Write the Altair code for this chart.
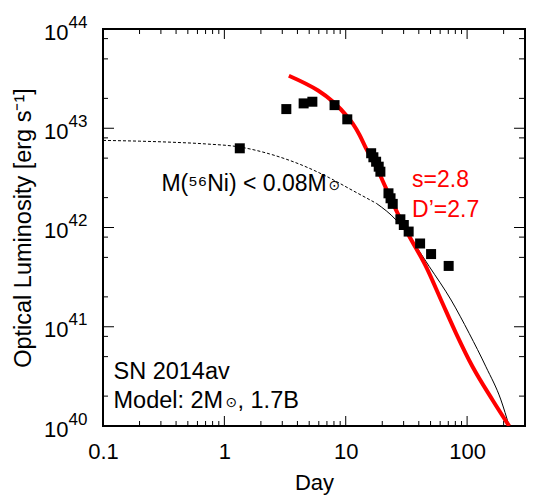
import altair as alt
import pandas as pd

# ---- data ----
obs_day = [1.34, 3.24, 4.50, 5.31, 8.09, 10.3, 16.2, 16.9, 17.8, 18.7, 19.3,
           22.5, 23.4, 24.4, 28.2, 30.1, 33.0, 41.0, 50.5, 70.5]
obs_lum = [6.28e42, 1.56e43, 1.78e43, 1.85e43, 1.71e43, 1.23e43, 5.6e42, 5.1e42,
           4.6e42, 4.1e42, 3.65e42, 2.21e42, 1.97e42, 1.73e42, 1.21e42, 1.06e42,
           9.1e41, 6.9e41, 5.4e41, 4.1e41]

red_day = [3.40, 10.3, 11.4, 13.0, 14.7, 17.8, 21.5, 26.0, 32.4, 45.9, 61.0,
           81.1, 111, 162, 222]
red_lum = [3.38e43, 1.31e43, 1.12e43, 8.55e42, 6.28e42, 4.10e42, 2.48e42, 1.50e42,
           8.75e41, 4.03e41, 1.86e41, 8.59e40, 3.95e40, 1.83e40, 1.0e40]

dash_day = [0.1, 0.201, 0.369, 0.703, 1.34, 2.36, 4.42, 7.36, 11.4, 17.9]
dash_lum = [7.54e42, 7.41e42, 7.23e42, 6.95e42, 6.47e42, 5.51e42, 4.22e42, 3.16e42,
            2.36e42, 1.75e42]

thin_day = [17.9, 26.0, 33.5, 48.9, 73.8, 104, 143, 190, 222]
thin_lum = [1.75e42, 1.19e42, 8.07e41, 4.03e41, 1.86e41, 8.59e40, 3.95e40, 1.83e40, 1.0e40]

x_major = [0.1, 1, 10, 100]
x_minor = [0.2, 0.3, 0.4, 0.5, 0.6, 0.7, 0.8, 0.9,
           2, 3, 4, 5, 6, 7, 8, 9,
           20, 30, 40, 50, 60, 70, 80, 90, 200]
y_major = [1e40, 1e41, 1e42, 1e43, 1e44]
y_minor = [2e40, 5e40, 8e40, 2e41, 5e41, 8e41, 2e42, 5e42, 8e42, 2e43, 5e43, 8e43]

ann_text = ["M(⁵⁶Ni) < 0.08M", "s=2.8", "D’=2.7", "SN 2014av", "Model: 2M"]
ann_day = [0.303, 35.2, 35.2, 0.122, 0.122]
ann_lum = [2.35e42, 2.53e42, 1.27e42, 3.0e40, 1.52e40]
ann_color = ["black", "#ff0000", "#ff0000", "black", "black"]
ann_size = [23, 23, 23, 23.5, 23.5]

sun_sym = "⊙"
model_tail = ", 1.7B"

# ---- chart ----
W, H = 422, 397
FONT = "Liberation Sans"
xdom = [0.1, 300]
ydom = [1e40, 1e44]
# pixels per decade, only used to turn tick lengths (px) into log offsets
XPD = W / 3.4771
YPD = H / 4.0


def xs():
    return alt.Scale(type="log", domain=xdom)


def ys():
    return alt.Scale(type="log", domain=ydom)


def xticks(values, at_bottom, length):
    # short vertical segments drawn as two-point lines, one per tick value
    df = pd.DataFrame({"v": values})
    if at_bottom:
        e1, e2 = "1e40", f"pow(10, 40 + {length}/{YPD})"
    else:
        e1, e2 = "1e44", f"pow(10, 44 - {length}/{YPD})"
    return alt.Chart(df).transform_calculate(a=e1, b=e2).transform_fold(
        ["a", "b"], as_=["k", "val"]
    ).mark_line(color="black", strokeWidth=1).encode(
        x=alt.X("v:Q", scale=xs(), axis=None),
        y=alt.Y("val:Q", scale=ys(), axis=None),
        detail="v:N",
    )


def yticks(values, at_left, length):
    df = pd.DataFrame({"v": values})
    if at_left:
        e1, e2 = "0.1", f"pow(10, -1 + {length}/{XPD})"
    else:
        e1, e2 = "300", f"300 * pow(10, -{length}/{XPD})"
    return alt.Chart(df).transform_calculate(a=e1, b=e2).transform_fold(
        ["a", "b"], as_=["k", "val"]
    ).mark_line(color="black", strokeWidth=1).encode(
        y=alt.Y("v:Q", scale=ys(), axis=None),
        x=alt.X("val:Q", scale=xs(), axis=None),
        detail="v:N",
    )


tick_layers = [
    xticks(x_major, True, 10), xticks(x_minor, True, 5),
    xticks(x_major, False, 10), xticks(x_minor, False, 5),
    yticks(y_major, True, 11), yticks(y_minor, True, 5),
    yticks(y_major, False, 11), yticks(y_minor, False, 6),
]

df_obs = pd.DataFrame({"day": obs_day, "lum": obs_lum})
df_red = pd.DataFrame({"day": red_day, "lum": red_lum})
df_dash = pd.DataFrame({"day": dash_day, "lum": dash_lum})
df_thin = pd.DataFrame({"day": thin_day, "lum": thin_lum})
df_ann = pd.DataFrame({"day": ann_day, "lum": ann_lum, "text": ann_text,
                       "color": ann_color, "fs": ann_size})
df_sun1 = pd.DataFrame({"day": [ann_day[0]], "lum": [ann_lum[0]], "text": [sun_sym]})
df_sun2 = pd.DataFrame({"day": [ann_day[4]], "lum": [ann_lum[4]], "text": [sun_sym]})
df_tail = pd.DataFrame({"day": [ann_day[4]], "lum": [ann_lum[4]], "text": [model_tail]})

x_label_axis = alt.Axis(orient="bottom", values=x_major, format="~g", ticks=False, tickSize=0,
                        domain=False, grid=False, labelFont=FONT, labelFontSize=22,
                        labelColor="black", labelPadding=15, labelFlush=False,
                        title="Day", titleFont=FONT, titleFontSize=22,
                        titleFontWeight="normal", titleColor="black", titlePadding=10)

y_ten_axis = alt.Axis(orient="left", values=y_major, labelExpr="'10'", ticks=False, tickSize=0,
                      domain=False, grid=False, labelFont=FONT, labelFontSize=22,
                      labelColor="black", labelPadding=35, labelOffset=3,
                      labelBaseline="middle", labelAlign="right", labelFlush=False,
                      title="Optical Luminosity [erg s⁻¹]", titleFont=FONT,
                      titleFontSize=23.5, titleFontWeight="normal", titleColor="black",
                      titlePadding=8)

y_exp_axis = alt.Axis(orient="left", values=y_major,
                      labelExpr="'' + round(log(datum.value)/LN10)", ticks=False, tickSize=0,
                      domain=False, grid=False, labelFont=FONT, labelFontSize=17,
                      labelColor="black", labelPadding=35, labelOffset=-7,
                      labelBaseline="middle", labelAlign="left", labelFlush=False,
                      title="")

dashed = alt.Chart(df_dash).mark_line(
    color="black", strokeWidth=1, strokeDash=[3, 2], interpolate="monotone", clip=True
).encode(
    x=alt.X("day:Q", scale=xs(), axis=None),
    y=alt.Y("lum:Q", scale=ys(), axis=None),
)

thin = alt.Chart(df_thin).mark_line(
    color="black", strokeWidth=1, interpolate="monotone", clip=True
).encode(
    x=alt.X("day:Q", scale=xs(), axis=None),
    y=alt.Y("lum:Q", scale=ys(), axis=None),
)

red = alt.Chart(df_red).mark_line(
    color="#ff0000", strokeWidth=4, interpolate="monotone", clip=True
).encode(
    x=alt.X("day:Q", scale=xs(), axis=None),
    y=alt.Y("lum:Q", scale=ys(), axis=y_exp_axis),
)

pts = alt.Chart(df_obs).mark_square(size=100, color="black", opacity=1).encode(
    x=alt.X("day:Q", scale=xs(), axis=x_label_axis),
    y=alt.Y("lum:Q", scale=ys(), axis=y_ten_axis),
)

text = alt.Chart(df_ann).mark_text(
    align="left", baseline="alphabetic", font=FONT
).encode(
    x=alt.X("day:Q", scale=xs(), axis=None),
    y=alt.Y("lum:Q", scale=ys(), axis=None),
    text="text:N",
    color=alt.Color("color:N", scale=None),
    size=alt.Size("fs:Q", scale=None),
)

sun1 = alt.Chart(df_sun1).mark_text(
    align="left", baseline="alphabetic", font="DejaVu Sans", fontSize=14,
    color="black", dx=167, dy=-1
).encode(
    x=alt.X("day:Q", scale=xs(), axis=None),
    y=alt.Y("lum:Q", scale=ys(), axis=None),
    text="text:N",
)

sun2 = alt.Chart(df_sun2).mark_text(
    align="left", baseline="alphabetic", font="DejaVu Sans", fontSize=14,
    color="black", dx=112, dy=-1
).encode(
    x=alt.X("day:Q", scale=xs(), axis=None),
    y=alt.Y("lum:Q", scale=ys(), axis=None),
    text="text:N",
)

tail = alt.Chart(df_tail).mark_text(
    align="left", baseline="alphabetic", font=FONT, fontSize=23.5, color="black", dx=124
).encode(
    x=alt.X("day:Q", scale=xs(), axis=None),
    y=alt.Y("lum:Q", scale=ys(), axis=None),
    text="text:N",
)

chart = alt.layer(*tick_layers, dashed, thin, red, pts, text, sun1, sun2, tail).resolve_scale(
    x="independent", y="independent"
).resolve_axis(
    x="independent", y="independent"
).properties(
    width=W, height=H,
    autosize=alt.AutoSizeParams(type="none"),
    padding={"left": 95, "top": 21, "right": 7, "bottom": 70},
).configure(font=FONT).configure_view(stroke="black", strokeWidth=2)

chart.save("out.html", embed_options={"renderer": "svg", "actions": False})
